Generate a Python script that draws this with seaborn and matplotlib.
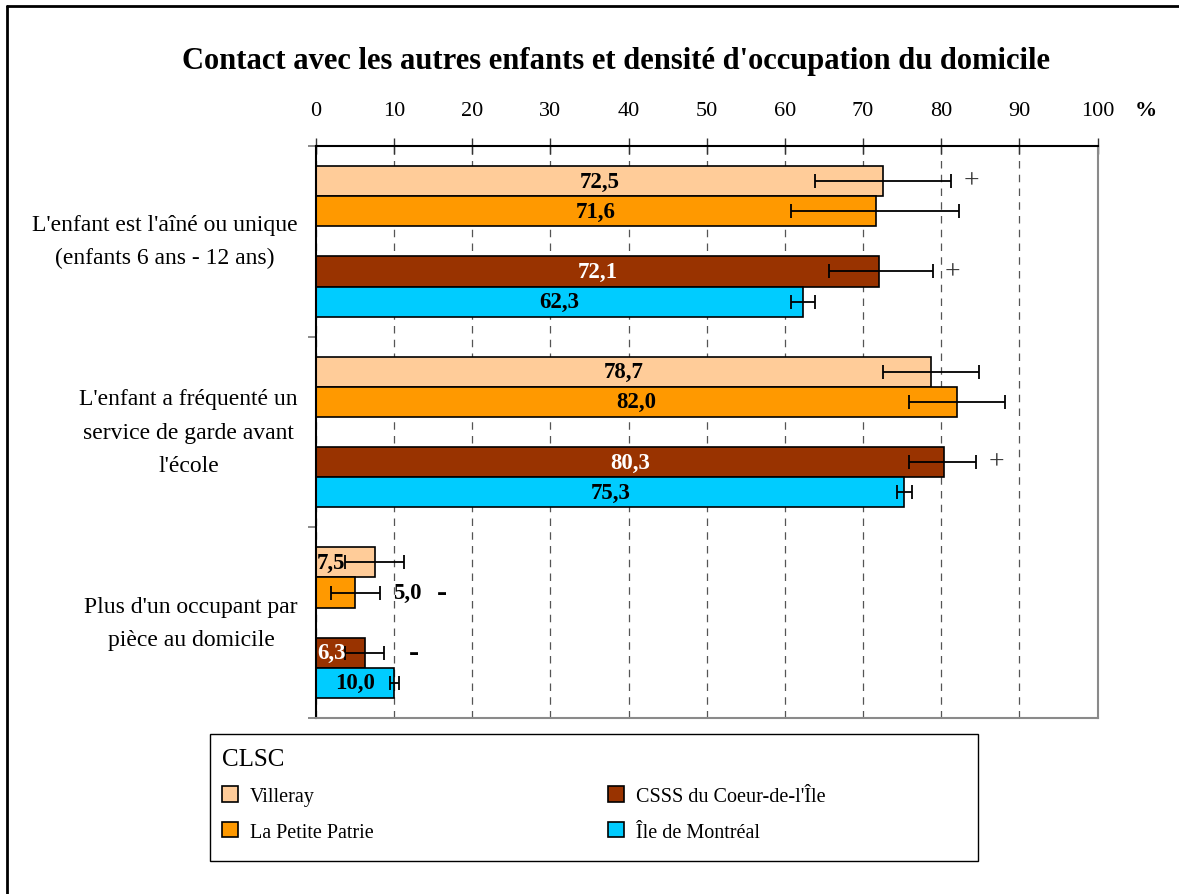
# -*- coding: utf-8 -*-
# Contact avec les autres enfants et densite d'occupation du domicile
import numpy as np
import pandas as pd
import seaborn as sns
import matplotlib.pyplot as plt
from matplotlib.patches import Patch, Rectangle
from matplotlib.lines import Line2D

categories = ["L'enfant est l'aîné ou unique\n(enfants 6 ans - 12 ans)",
              "L'enfant a fréquenté un\nservice de garde avant\nl'école",
              "Plus d'un occupant par\npièce au domicile"]
series = ["Villeray", "La Petite Patrie", "CSSS du Coeur-de-l'Île", "Île de Montréal"]

villeray = [72.5, 78.7, 7.5]
petite_patrie = [71.6, 82.0, 5.0]
csss = [72.1, 80.3, 6.3]
ile = [62.3, 75.3, 10.0]

# confidence intervals (low, high)
villeray_lo = [63.9, 72.6, 3.7]
villeray_hi = [81.3, 84.9, 11.2]
petite_patrie_lo = [60.8, 75.9, 1.9]
petite_patrie_hi = [82.3, 88.2, 8.2]
csss_lo = [65.6, 75.9, 3.7]
csss_hi = [78.9, 84.5, 8.7]
ile_lo = [60.8, 74.3, 9.5]
ile_hi = [63.9, 76.3, 10.6]

# significance signs
villeray_sig = ["+", "", ""]
petite_patrie_sig = ["", "", "-"]
csss_sig = ["+", "+", "-"]
ile_sig = ["", "", ""]

colors = ["#FFCC99", "#FF9900", "#993300", "#00CCFF"]
txt_colors = ["black", "black", "white", "black"]

sns.set_style("white")
plt.rcParams['font.family'] = ['Liberation Serif', 'DejaVu Serif']
plt.rcParams['text.color'] = 'black'
plt.rcParams['xtick.color'] = 'black'
plt.rcParams['ytick.color'] = 'black'
plt.rcParams['axes.labelcolor'] = 'black'

values = [villeray, petite_patrie, csss, ile]
lows = [villeray_lo, petite_patrie_lo, csss_lo, ile_lo]
highs = [villeray_hi, petite_patrie_hi, csss_hi, ile_hi]
sigs = [villeray_sig, petite_patrie_sig, csss_sig, ile_sig]

df = pd.DataFrame({"indicateur": np.tile(categories, len(series)),
                   "groupe": np.repeat(series, len(categories)),
                   "pct": np.concatenate(values)})

blank = " "  # empty slot between the two pairs of bars
hue_order = series[:2] + [blank] + series[2:]
palette = dict(zip(series, colors))
palette[blank] = "white"

fig = plt.figure(figsize=(11.79, 8.95), dpi=100)
ax = fig.add_axes([316 / 1179, 1 - 719 / 895, (1097.5 - 316) / 1179, (719 - 147) / 895])

sns.barplot(data=df, x="pct", y="indicateur", hue="groupe", hue_order=hue_order,
            order=categories, palette=palette, orient="y", width=0.79, saturation=1,
            errorbar=None, edgecolor="black", linewidth=1.2, legend=False, ax=ax)

ax.set_xlim(0, 100)
ax.set_ylim(2.5, -0.5)
ax.set_xticks(range(0, 101, 10))
ax.set_xlabel('')
ax.set_ylabel('')
ax.set_axisbelow(True)
ax.grid(axis='x', linestyle=(0, (6, 5)), color='#555555', linewidth=0.9)
ax.grid(axis='y', visible=False)

ax.xaxis.tick_top()
ax.tick_params(axis='x', top=True, bottom=False, labeltop=True, labelbottom=False,
               direction='inout', length=12, width=1, color='#333333', pad=13, labelsize=16)
ax.tick_params(axis='y', which='major', length=0, pad=13, labelsize=17)
ax.set_yticks([-0.5, 0.5, 1.5, 2.5], minor=True)
ax.tick_params(axis='y', which='minor', left=True, length=6, width=1.2, color='#777777', direction='out')
for lbl in ax.get_yticklabels():
    lbl.set_multialignment('center')
    lbl.set_verticalalignment('center')
    lbl.set_linespacing(1.75)

for side in ['top', 'left']:
    ax.spines[side].set_color('black')
    ax.spines[side].set_linewidth(1.5)
for side in ['bottom', 'right']:
    ax.spines[side].set_color('#8a8a8a')
    ax.spines[side].set_linewidth(1.5)

# bars in the order top -> bottom
bars = sorted([p for p in ax.patches if p.get_width() > 0], key=lambda p: p.get_y())
k = 0
for i in range(len(categories)):
    for j in range(len(series)):
        p = bars[k]
        k += 1
        v = values[j][i]
        lo = lows[j][i]
        hi = highs[j][i]
        yc = p.get_y() + p.get_height() / 2
        ax.errorbar(v, yc, xerr=[[v - lo], [hi - v]], fmt='none', ecolor='black',
                    elinewidth=1.3, capsize=5, capthick=1.3, zorder=4)
        txt = ('%.1f' % v).replace('.', ',')
        end = hi
        if v >= 9:
            ax.text(v / 2, yc, txt, ha='center', va='center', fontsize=16.5,
                    fontweight='bold', color=txt_colors[j], zorder=5)
        elif v >= 6:
            ax.text(0.15, yc, txt, ha='left', va='center', fontsize=16.5,
                    fontweight='bold', color=txt_colors[j], zorder=5)
        else:
            ax.text(hi + 1.7, yc, txt, ha='left', va='center', fontsize=16.5,
                    fontweight='bold', color='black', zorder=5)
            end = hi + 4.1
        s = sigs[j][i]
        if s == "+":
            ax.text(end + 2.6, yc, "+", ha='center', va='center', fontsize=20,
                    color='#333333')
        elif s == "-":
            ax.text(end + 3.8, yc, "-", ha='center', va='center', fontsize=22,
                    fontweight='bold', color='black')

ax.text(1.062, 1.063, "%", transform=ax.transAxes, ha='center', va='center',
        fontsize=16, fontweight='bold')

fig.text(616.5 / 1179, 1 - 62 / 895,
         "Contact avec les autres enfants et densité d'occupation du domicile",
         ha='center', va='center', fontsize=22, fontweight='bold')

# legend: frame drawn separately so the columns can sit where they are in the original
fig.add_artist(Rectangle((210 / 1179, 1 - 862 / 895), 768 / 1179, 127 / 895,
                         transform=fig.transFigure, facecolor='white', edgecolor='black',
                         linewidth=1.0, zorder=-1))
handles = [Patch(facecolor=c, edgecolor='black', linewidth=1.2) for c in colors]
leg = ax.legend(handles, series, title="CLSC", ncol=2, loc='upper left',
                bbox_to_anchor=(218 / 1179, 1 - 745 / 895),
                bbox_transform=fig.transFigure, borderaxespad=0, borderpad=0.2,
                fontsize=14.5, title_fontsize=18, alignment='left',
                handlelength=0.8, handleheight=0.8, handletextpad=0.6,
                labelspacing=0.8, columnspacing=11.6, frameon=False)

# outer frame of the picture
fig.add_artist(Line2D([7 / 1179, 7 / 1179], [0, 1 - 7 / 895], transform=fig.transFigure,
                      color='black', linewidth=2))
fig.add_artist(Line2D([7 / 1179, 1], [1 - 7 / 895, 1 - 7 / 895], transform=fig.transFigure,
                      color='black', linewidth=2))

fig.savefig('out.png', dpi=100)
